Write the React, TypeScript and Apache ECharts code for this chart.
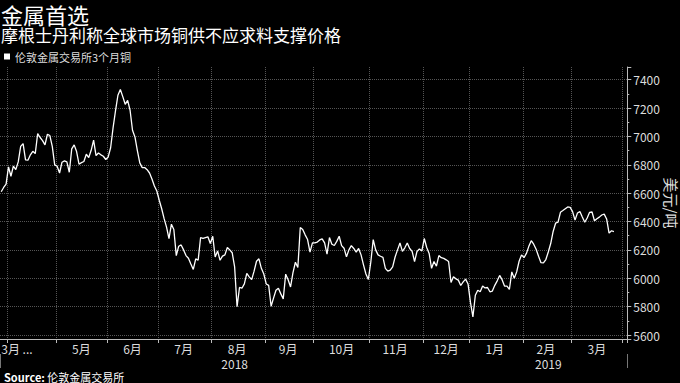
import React, { useEffect, useRef } from 'react';
import * as echarts from 'echarts';

// ---- Data ----
const FIRST_DAY = '2018-03-27';
const LAST_DAY = '2019-04-02';
const HOLIDAYS = ['2018-03-30', '2018-04-02', '2018-05-07', '2018-05-28', '2018-08-27', '2018-12-25', '2018-12-26', '2019-01-01'];

const SERIES_NAME = '伦敦金属交易所3个月铜';
const Y_UNIT = '美元/吨';

// LME 3-month copper, USD/t, one value per trading day
const priceMar2018 = [6610, 6640, 6663];
const priceApr2018 = [6785, 6719, 6790, 6766, 6820, 6930, 6949, 6835, 6832, 6870, 6895, 6879, 7020, 6992, 6970, 6940, 7015, 7006, 6930, 6799];
const priceMay2018 = [6790, 6742, 6818, 6827, 6820, 6747, 6912, 6940, 6893, 6804, 6815, 6823, 6874, 6851, 6902, 6973, 6865, 6883, 6870, 6860, 6837];
const priceJun2018 = [6855, 6920, 7060, 7180, 7290, 7330, 7280, 7226, 7254, 7184, 7043, 6996, 6900, 6813, 6780, 6780, 6765, 6742, 6700, 6650, 6615];
const priceJul2018 = [6550, 6490, 6420, 6360, 6280, 6381, 6344, 6160, 6226, 6235, 6200, 6160, 6141, 6100, 6062, 6137, 6127, 6287, 6282, 6287, 6292, 6245];
const priceAug2018 = [6296, 6150, 6193, 6127, 6156, 6165, 6217, 6200, 6180, 6080, 5799, 5935, 5930, 5960, 6034, 6010, 5990, 6050, 6120, 6137, 6070, 6030];
const priceSep2018 = [5960, 5950, 5803, 5860, 5916, 5930, 5890, 5855, 6029, 5990, 5939, 6040, 6113, 6076, 6358, 6344, 6306, 6273, 6184, 6249];
const priceOct2018 = [6249, 6255, 6270, 6278, 6249, 6170, 6287, 6240, 6231, 6260, 6296, 6230, 6212, 6151, 6200, 6230, 6210, 6185, 6210, 6165, 6095, 6030, 5992];
const priceNov2018 = [6113, 6273, 6200, 6165, 6155, 6147, 6070, 6050, 6058, 6080, 6150, 6200, 6249, 6190, 6215, 6249, 6210, 6190, 6118, 6189, 6207, 6193];
const priceDec2018 = [6280, 6217, 6175, 6070, 6118, 6085, 6160, 6145, 6140, 6130, 6118, 5970, 6010, 5996, 5987, 5949, 5975, 5994, 5960];
const priceJan2019 = [5830, 5728, 5880, 5916, 5905, 5945, 5932, 5935, 5905, 5910, 5950, 5982, 6020, 5990, 5945, 5944, 5921, 6045, 6000, 6045, 6120, 6165];
const priceFeb2019 = [6145, 6175, 6225, 6265, 6240, 6205, 6155, 6110, 6108, 6132, 6185, 6245, 6330, 6388, 6395, 6465, 6477, 6490, 6503, 6500];
const priceMar2019 = [6470, 6410, 6460, 6470, 6432, 6395, 6425, 6465, 6467, 6405, 6420, 6431, 6446, 6452, 6418, 6318, 6335, 6329];

// x-axis tick labels: month key -> label text
const MONTH_KEYS = ['2018-03', '2018-05', '2018-06', '2018-07', '2018-08', '2018-09', '2018-10', '2018-11', '2018-12', '2019-01', '2019-02', '2019-03'];
const MONTH_TEXTS = ['3月 ...', '5月', '6月', '7月', '8月', '9月', '10月', '11月', '12月', '1月', '2月', '3月'];
const YEAR_LABELS = ['2018', '2019'];

// y-axis range
const Y_MIN = 5572;
const Y_MAX = 7489;

const FONT = '"Noto Sans CJK SC", "Noto Sans", sans-serif';

function buildTradingDays(): string[] {
  const out: string[] = [];
  const d = new Date(FIRST_DAY + 'T00:00:00Z');
  const end = new Date(LAST_DAY + 'T00:00:00Z');
  while (d.getTime() <= end.getTime()) {
    const wd = d.getUTCDay();
    const s = d.toISOString().slice(0, 10);
    if (wd !== 0 && wd !== 6 && HOLIDAYS.indexOf(s) < 0) out.push(s);
    d.setUTCDate(d.getUTCDate() + 1);
  }
  return out;
}

export default function App() {
  const ref = useRef<HTMLDivElement>(null);

  useEffect(() => {
    if (!ref.current) return;
    const chart = echarts.init(ref.current, undefined, { renderer: 'svg' });

    const days = buildTradingDays();
    const allPrices: (number | null)[] = [
      ...priceMar2018, ...priceApr2018, ...priceMay2018, ...priceJun2018, ...priceJul2018,
      ...priceAug2018, ...priceSep2018, ...priceOct2018, ...priceNov2018, ...priceDec2018,
      ...priceJan2019, ...priceFeb2019, ...priceMar2019,
    ];
    while (allPrices.length < days.length) allPrices.push(null);

    const monthStart = new Set<number>();
    const monthRange = new Map<string, [number, number]>();
    const yearStart = new Set<number>();
    const yearRange = new Map<string, [number, number]>();
    days.forEach((d, i) => {
      const m = d.slice(0, 7);
      const y = d.slice(0, 4);
      if (i > 0 && m !== days[i - 1].slice(0, 7)) monthStart.add(i);
      if (i > 0 && y !== days[i - 1].slice(0, 4)) yearStart.add(i);
      const r = monthRange.get(m);
      monthRange.set(m, r ? [r[0], i] : [i, i]);
      const yr = yearRange.get(y);
      yearRange.set(y, yr ? [yr[0], i] : [i, i]);
    });
    const monthLabel = new Map<number, string>();
    MONTH_KEYS.forEach((k, j) => {
      const r = monthRange.get(k);
      if (!r) return;
      const idx = r[0] === 0 ? 0 : Math.floor((r[0] + r[1]) / 2);
      monthLabel.set(idx, MONTH_TEXTS[j]);
    });
    const yearLabel = new Map<number, string>();
    YEAR_LABELS.forEach((y) => {
      const r = yearRange.get(y);
      if (!r) return;
      yearLabel.set(Math.floor((r[0] + r[1]) / 2), y);
    });

    const catData = days.map((d, i) =>
      i === 0 ? { value: d, textStyle: { align: 'left' } } : d
    );

    const option: any = {
      animation: false,
      backgroundColor: '#000',
      textStyle: { fontFamily: FONT },
      title: [
        {
          text: '金属首选', left: 1, top: 3, padding: 0,
          textStyle: { color: '#fff', fontSize: 22, lineHeight: 22, fontWeight: 'normal', fontFamily: FONT },
        },
        {
          text: '摩根士丹利称全球市场铜供不应求料支撑价格', left: 1, top: 26, padding: 0,
          textStyle: { color: '#fff', fontSize: 17, lineHeight: 17, fontWeight: 'normal', fontFamily: FONT },
        },
        {
          text: '{b|Source:} 伦敦金属交易所', left: 4, top: 371, padding: 0,
          textStyle: {
            color: '#fff', fontSize: 11, lineHeight: 11, fontWeight: 'normal', fontFamily: FONT,
            rich: { b: { color: '#fff', fontSize: 11, lineHeight: 11, fontWeight: 'bold', fontFamily: FONT } },
          },
        },
      ],
      legend: {
        data: [SERIES_NAME], left: 4, top: 51, padding: 0,
        icon: 'rect', itemWidth: 6, itemHeight: 6,
        textStyle: { color: '#ddd', fontSize: 11, lineHeight: 11, fontFamily: FONT },
      },
      graphic: [
        {
          type: 'text', x: 671, y: 203, rotation: -Math.PI / 2, silent: true,
          style: { text: Y_UNIT, fill: '#ddd', fontSize: 15, fontFamily: FONT, align: 'center', verticalAlign: 'middle' },
        },
      ],
      grid: { left: 0, right: 52.7, top: 67, bottom: 44, containLabel: false, outerBoundsMode: 'none' },
      xAxis: [
        {
          type: 'category', data: catData, boundaryGap: true, position: 'bottom',
          axisLine: { show: true, lineStyle: { color: '#bbb', width: 1 } },
          axisTick: { show: true, interval: (i: number) => monthStart.has(i), length: 4, lineStyle: { color: '#bbb' } },
          axisLabel: {
            interval: (i: number) => monthLabel.has(i),
            formatter: (_v: string, i: number) => monthLabel.get(i) ?? '',
            color: '#ddd', fontSize: 12, lineHeight: 12, margin: 3, fontFamily: FONT,
          },
          splitLine: { show: true, interval: (i: number) => monthStart.has(i), lineStyle: { color: '#555', type: 'dotted', width: 1 } },
        },
        {
          type: 'category', data: days, boundaryGap: true, position: 'bottom', offset: 15,
          axisLine: { show: false },
          axisTick: { show: true, interval: (i: number) => yearStart.has(i), length: 14, lineStyle: { color: '#777' } },
          axisLabel: {
            interval: (i: number) => yearLabel.has(i),
            formatter: (_v: string, i: number) => yearLabel.get(i) ?? '',
            color: '#ddd', fontSize: 12, lineHeight: 12, margin: 3, fontFamily: FONT,
          },
          splitLine: { show: false },
        },
      ],
      yAxis: {
        type: 'value', position: 'right', min: Y_MIN, max: Y_MAX, splitNumber: 9,
        axisLine: { show: true, lineStyle: { color: '#bbb' } },
        axisTick: { show: true, length: 4, lineStyle: { color: '#bbb' } },
        minorTick: { show: true, splitNumber: 2, length: 2, lineStyle: { color: '#bbb' } },
        axisLabel: {
          color: '#ddd', fontSize: 12, margin: 6, fontFamily: FONT,
          showMinLabel: false, showMaxLabel: false,
          formatter: (v: number) => (v % 200 === 0 ? String(v) : ''),
        },
        splitLine: { show: true, showMinLine: false, showMaxLine: false, lineStyle: { color: '#555', type: 'dotted', width: 1 } },
      },
      series: [
        {
          type: 'line', name: SERIES_NAME, data: allPrices, xAxisIndex: 0, yAxisIndex: 0,
          showSymbol: false, symbol: 'none', connectNulls: true,
          lineStyle: { color: '#fff', width: 1.3 }, itemStyle: { color: '#fff' },
        },
      ],
    };
    chart.setOption(option);
    return () => chart.dispose();
  }, []);

  return (
    <div
      ref={ref}
      style={{ position: 'absolute', left: 0, top: 0, width: 680, height: 383, background: '#000' }}
    />
  );
}
